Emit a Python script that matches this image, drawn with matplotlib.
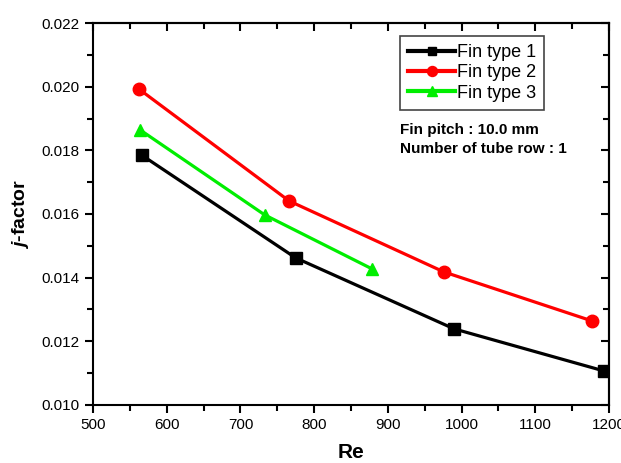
import matplotlib
matplotlib.use('Agg')
import matplotlib.pyplot as plt

# j-factor vs Reynolds number for three fin types
re_type1 = [566, 775, 990, 1193]
j_type1 = [0.01785, 0.01462, 0.01239, 0.01107]
re_type2 = [562, 766, 976, 1177]
j_type2 = [0.01993, 0.01641, 0.01418, 0.01264]
re_type3 = [564, 733, 879]
j_type3 = [0.01864, 0.01597, 0.01427]

labels = ['Fin type 1', 'Fin type 2', 'Fin type 3']

x_major = list(range(500, 1201, 100))
x_minor = list(range(550, 1200, 100))
y_major = [0.010, 0.012, 0.014, 0.016, 0.018, 0.020, 0.022]
y_minor = [0.011, 0.013, 0.015, 0.017, 0.019, 0.021]

plt.rcParams['font.family'] = ['Liberation Sans', 'DejaVu Sans']
plt.rcParams['mathtext.fontset'] = 'custom'
plt.rcParams['mathtext.it'] = 'Liberation Sans:italic:bold'

fig = plt.figure(figsize=(6.21, 4.63), dpi=100)
ax = fig.add_axes([0.1498, 0.1253, 0.8309, 0.825])

ax.plot(re_type1, j_type1, color='black', lw=2.3, marker='s', ms=8, label=labels[0])
ax.plot(re_type2, j_type2, color='#ff0000', lw=2.3, marker='o', ms=9, label=labels[1])
ax.plot(re_type3, j_type3, color='#00ee00', lw=2.3, marker='^', ms=9, label=labels[2])

ax.set_xlim(500, 1200)
ax.set_ylim(0.010, 0.022)
ax.set_xticks(x_major)
ax.set_xticks(x_minor, minor=True)
ax.set_yticks(y_major)
ax.set_yticks(y_minor, minor=True)
ax.yaxis.set_major_formatter(matplotlib.ticker.FormatStrFormatter('%.3f'))

for s in ax.spines.values():
    s.set_linewidth(1.5)
ax.tick_params(which='both', direction='out', width=1.5, labelsize=11)
ax.tick_params(which='major', length=6)
ax.tick_params(which='minor', length=4)

# mirrored ticks on top/right, pointing inward, no labels
top = ax.secondary_xaxis('top')
top.set_xticks(x_major)
top.set_xticks(x_minor, minor=True)
top.set_xticklabels([])
right = ax.secondary_yaxis('right')
right.set_yticks(y_major)
right.set_yticks(y_minor, minor=True)
right.set_yticklabels([])
for sa in (top, right):
    sa.tick_params(which='both', direction='in', width=1.5)
    sa.tick_params(which='major', length=6)
    sa.tick_params(which='minor', length=4)
    for s in sa.spines.values():
        s.set_linewidth(1.5)

ax.set_xlabel('Re', fontsize=15, fontweight='bold', labelpad=8)
ax.set_ylabel('$j$-factor', fontsize=14, fontweight='bold', labelpad=8)

leg = ax.legend(loc='upper left', bbox_to_anchor=(0.595, 0.966), fontsize=13,
                handlelength=2.6, handletextpad=0.1, labelspacing=0.18,
                borderpad=0.45, borderaxespad=0, markerscale=0.8,
                fancybox=False, framealpha=1, edgecolor='#444444')
leg.get_frame().set_linewidth(1.2)
for line in leg.get_lines():
    line.set_linewidth(3)

ax.text(0.595, 0.737, 'Fin pitch : 10.0 mm\nNumber of tube row : 1',
        transform=ax.transAxes, fontsize=11, fontweight='bold',
        va='top', ha='left', linespacing=1.45)

fig.savefig('out.png', dpi=100)
